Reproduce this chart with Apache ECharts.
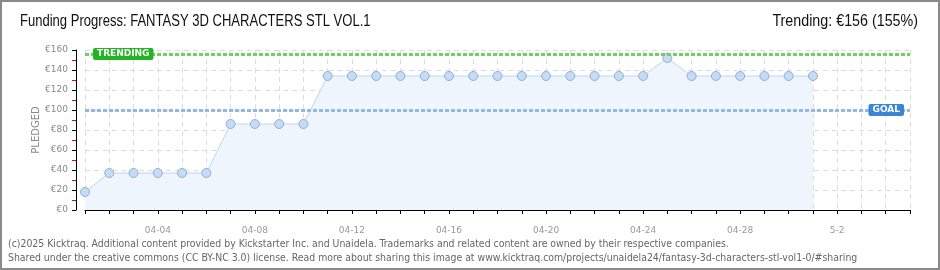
<!DOCTYPE html>
<html>
<head>
<meta charset="utf-8">
<script src="https://cdn.jsdelivr.net/npm/echarts@6/dist/echarts.min.js"></script>
<style>
html,body{margin:0;padding:0;background:#fff;}
#c{width:940px;height:270px;}
</style>
</head>
<body>
<div id="c"></div>
<script>
const titleText = 'Funding Progress: FANTASY 3D CHARACTERS STL VOL.1';
const trendingText = 'Trending: €156 (155%)';
const footer1 = '(c)2025 Kicktraq. Additional content provided by Kickstarter Inc. and Unaidela. Trademarks and related content are owned by their respective companies.';
const footer2 = 'Shared under the creative commons (CC BY-NC 3.0) license. Read more about sharing this image at www.kicktraq.com/projects/unaidela24/fantasy-3d-characters-stl-vol1-0/#sharing';

const categories = ['04-01','04-02','04-03','04-04','04-05','04-06','04-07','04-08','04-09','04-10',
  '04-11','04-12','04-13','04-14','04-15','04-16','04-17','04-18','04-19','04-20',
  '04-21','04-22','04-23','04-24','04-25','04-26','04-27','04-28','04-29','04-30',
  '5-1','5-2','5-3','5-4','5-5'];
const pledged = [18,37,37,37,37,37,86,86,86,86,
  134,134,134,134,134,134,134,134,134,134,
  134,134,134,134,152,134,134,134,134,134,134];
const yTicks = ['€0','€20','€40','€60','€80','€100','€120','€140','€160'];
const trendingValue = 156;
const goalValue = 100;

const chart = echarts.init(document.getElementById('c'), null, {renderer:'canvas'});
const labelFont = '"DejaVu Sans", sans-serif';
const titleFont = '"Liberation Sans", sans-serif';
const footFont = '10.4px "DejaVu Sans Condensed","DejaVu Sans",sans-serif';

chart.setOption({
  animation:false,
  backgroundColor:'#fff',
  grid:{left:85,right:30,top:50,bottom:60,containLabel:false},
  graphic:[
    {type:'rect',shape:{x:1,y:1,width:938,height:268},style:{fill:null,stroke:'#8a8a8a',lineWidth:2},z:100},
    {type:'text',x:20,y:14,scaleX:0.815,style:{text:titleText,font:'16px '+titleFont,fill:'#111',textAlign:'left',textVerticalAlign:'top'}},
    {type:'text',x:918,y:14,scaleX:0.893,style:{text:trendingText,font:'16px '+titleFont,fill:'#111',textAlign:'right',textVerticalAlign:'top'}},
    {type:'text',x:8,y:239,style:{text:footer1,font:footFont,fill:'#666'}},
    {type:'text',x:8,y:253,style:{text:footer2,font:footFont,fill:'#666'}}
  ],
  xAxis:{
    type:'category',
    data:categories,
    boundaryGap:false,
    offset:10,
    axisLine:{lineStyle:{color:'#000',width:1}},
    axisTick:{show:true,length:4,interval:0,lineStyle:{color:'#000'}},
    axisLabel:{
      interval:function(i){return i>=3 && (i-3)%4===0;},
      color:'#999',fontSize:9,fontFamily:labelFont,margin:6
    },
    splitLine:{show:true,interval:0,lineStyle:{color:'#ddd',type:[5,4],width:1}}
  },
  yAxis:{
    type:'value',
    min:0,max:160,interval:20,
    offset:9,
    name:'PLEDGED',
    nameLocation:'middle',
    nameGap:35,
    nameMoveOverlap:false,
    nameTextStyle:{color:'#888',fontSize:10,fontFamily:labelFont},
    axisLine:{show:true,lineStyle:{color:'#000',width:1}},
    axisTick:{show:true,length:4,lineStyle:{color:'#000'}},
    minorTick:{show:true,splitNumber:2,length:4,lineStyle:{color:'#e00'}},
    axisLabel:{
      formatter:function(v){return yTicks[Math.round(v/20)];},
      color:'#888',fontSize:9,fontFamily:labelFont,margin:8
    },
    splitLine:{show:true,lineStyle:{color:'#ddd',type:[5,4],width:1}}
  },
  series:[{
    type:'line',
    data:pledged,
    symbol:'circle',
    symbolSize:9,
    showAllSymbol:true,
    lineStyle:{color:'#bcd6f2',width:1},
    itemStyle:{color:'#c6dcf5',borderColor:'#8fb0d5',borderWidth:1},
    areaStyle:{color:'#eef5fd',opacity:1},
    z:3,
    markLine:{
      silent:true,
      symbol:['none','none'],
      data:[
        {yAxis:trendingValue,
         lineStyle:{color:'#70d060',type:[4,2],width:3},
         label:{show:true,position:'insideStart',distance:8,formatter:'TRENDING',
           color:'#fff',backgroundColor:'#22b422',padding:[2,4,1,4],borderRadius:2,
           fontSize:9,fontWeight:'bold',fontFamily:labelFont}},
        {yAxis:goalValue,
         lineStyle:{color:'#94b8e3',type:[4,2],width:3},
         label:{show:true,position:'insideEnd',distance:6,formatter:'GOAL',
           color:'#fff',backgroundColor:'#3a86d4',padding:[2,4,1,4],borderRadius:2,
           fontSize:9,fontWeight:'bold',fontFamily:labelFont}}
      ]
    }
  }]
});
</script>
</body>
</html>
